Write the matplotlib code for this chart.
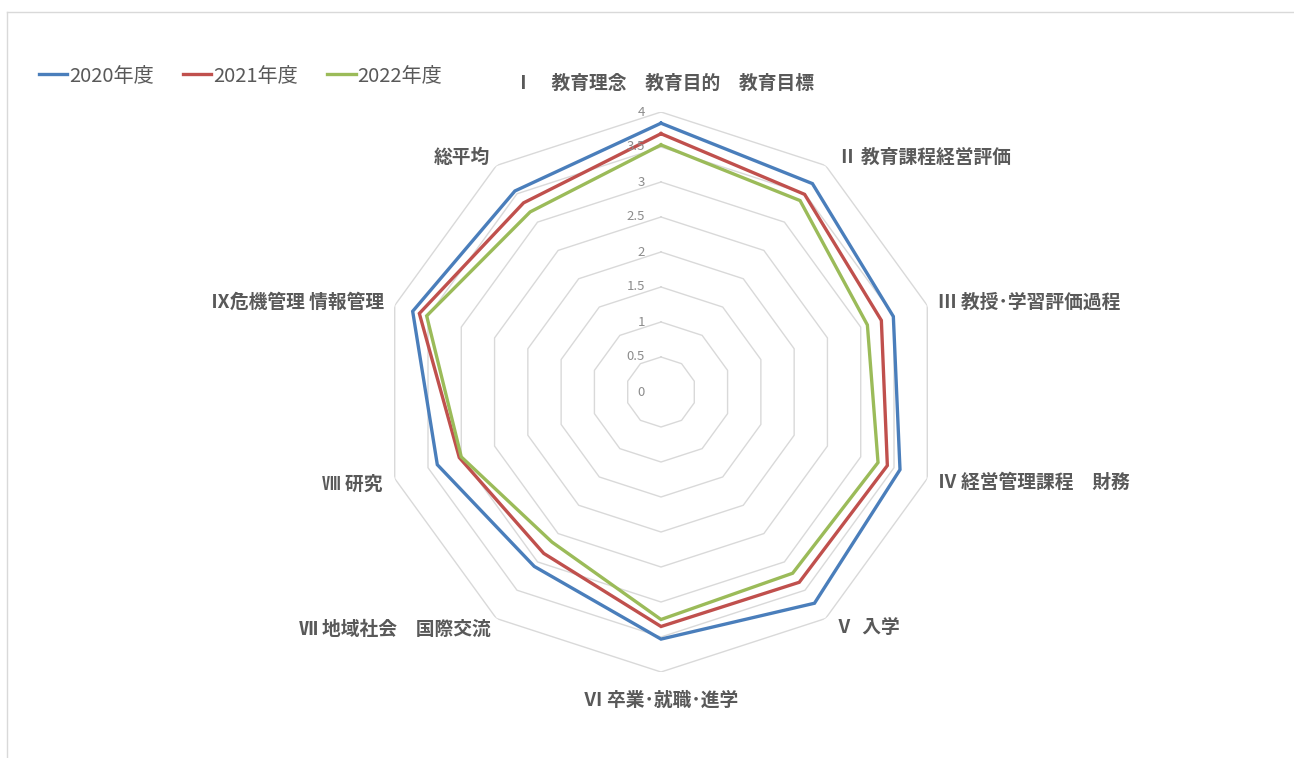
import numpy as np
import matplotlib
matplotlib.use("Agg")
import matplotlib.pyplot as plt
from matplotlib.lines import Line2D

plt.rcParams['font.family'] = ['Noto Sans CJK JP', 'DejaVu Sans']

categories = ["Ⅰ　教育理念　教育目的　教育目標", "Ⅱ 教育課程経営評価", "Ⅲ 教授･学習評価過程",
              "Ⅳ 経営管理課程　財務", "Ⅴ  入学", "Ⅵ 卒業･就職･進学",
              "Ⅶ 地域社会　国際交流", "Ⅷ 研究", "Ⅸ危機管理 情報管理", "総平均"]
y2020 = [3.84, 3.68, 3.49, 3.59, 3.73, 3.53, 3.08, 3.36, 3.73, 3.55]
y2021 = [3.69, 3.49, 3.31, 3.40, 3.36, 3.35, 2.85, 3.03, 3.63, 3.34]
y2022 = [3.53, 3.38, 3.10, 3.26, 3.20, 3.25, 2.65, 3.00, 3.52, 3.18]
series_names = ["2020年度", "2021年度", "2022年度"]
colors = ["#4a7ebb", "#c0504d", "#9bbb59"]
levels = [0.5, 1, 1.5, 2, 2.5, 3, 3.5, 4]
level_labels = ["0", "0.5", "1", "1.5", "2", "2.5", "3", "3.5", "4"]

# label offsets in pixels from the outer vertex, and alignment
offsets = [(3, 29, 'center'), (12, 8, 'left'), (11, 3, 'left'), (11, -4, 'left'),
           (9, -9, 'left'), (0, -28, 'center'), (-6, -11, 'right'), (-12, -6, 'right'),
           (-11, 3, 'right'), (-6, 8, 'right')]

W, H = 1294, 758
fig = plt.figure(figsize=(W / 100, H / 100), dpi=100)
cx, cy, R = 661, 392, 280
ax = fig.add_axes([(cx - R) / W, (H - cy - R) / H, 2 * R / W, 2 * R / H], projection='polar')
ax.set_theta_zero_location('N')
ax.set_theta_direction(-1)
ax.set_ylim(0, 4)
ax.axis('off')

n = len(categories)
theta = np.linspace(0, 2 * np.pi, n, endpoint=False)
th_closed = np.append(theta, theta[0])

for lv in levels:
    ax.plot(th_closed, [lv] * (n + 1), color="#d9d9d9", lw=1.0, zorder=1)

for vals, name, c in zip([y2020, y2021, y2022], series_names, colors):
    v = np.append(vals, vals[0])
    ax.plot(th_closed, v, color=c, lw=2.4, label=name, zorder=3, solid_joinstyle='miter')

for i, lab in enumerate(level_labels):
    ax.annotate(lab, xy=(0, i * 0.5), xytext=(-16, 0), textcoords='offset pixels',
                ha='right', va='center', fontsize=9.5, color="#8c8c8c")

for t, lab, (dx, dy, ha) in zip(theta, categories, offsets):
    ax.annotate(lab, xy=(t, 4), xytext=(dx, dy), textcoords='offset pixels',
                ha=ha, va='center', fontsize=13.5, fontweight='bold', color="#595959")

handles = [Line2D([], [], color=c, lw=2.4) for c in colors]
fig.legend(handles, series_names, loc='center left', bbox_to_anchor=(21 / W, 1 - 76 / H),
           ncol=3, frameon=False, handlelength=1.4, handletextpad=0.1, columnspacing=1.45,
           prop={'size': 14.5}, labelcolor="#595959")

# outer chart frame
fig.add_artist(Line2D([7 / W, 7 / W], [0, 1 - 12 / H], color="#d9d9d9", lw=1))
fig.add_artist(Line2D([7 / W, 1], [1 - 12 / H, 1 - 12 / H], color="#d9d9d9", lw=1))

fig.savefig("out.png", dpi=100, facecolor="white")
